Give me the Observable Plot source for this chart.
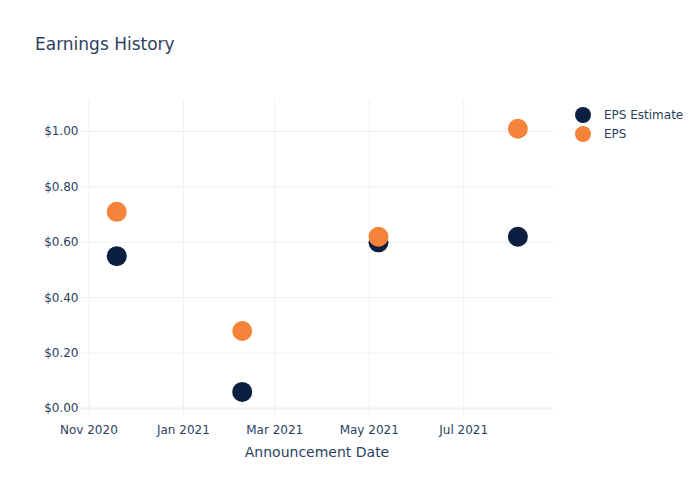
<!DOCTYPE html>
<html>
<head>
<meta charset="utf-8">
<script src="https://cdn.jsdelivr.net/npm/d3@7"></script>
<script src="https://cdn.jsdelivr.net/npm/@observablehq/plot@0.6"></script>
<style>
  body { margin: 0; background: #fff; font-family: "DejaVu Sans", sans-serif; }
  #wrap { position: relative; width: 700px; height: 500px; }
  #title { position: absolute; left: 35px; top: 34px; font-size: 17px; color: #2a3f5f; white-space: nowrap; }
  #legend { position: absolute; left: 575px; top: 105px; font-size: 12px; color: #2a3f5f; }
  .item { display: flex; align-items: center; height: 19px; }
  .sw { width: 16px; height: 16px; border-radius: 50%; margin-right: 13px; }
</style>
</head>
<body>
<div id="wrap">
  <div id="chart"></div>
  <div id="title">Earnings History</div>
  <div id="legend"></div>
</div>
<script>
const titleText = "Earnings History";
const xLabel = "Announcement Date";
const seriesNames = ["EPS Estimate", "EPS"];
const seriesColors = ["#0c1f40", "#f5833a"];
const dates = ["2020-11-19", "2021-02-08", "2021-05-07", "2021-08-05"];
const epsEstimate = [0.55, 0.06, 0.60, 0.62];
const eps = [0.71, 0.28, 0.62, 1.01];
const xTicks = ["2020-11-01", "2021-01-01", "2021-03-01", "2021-05-01", "2021-07-01"];
const yTicks = [0, 0.2, 0.4, 0.6, 0.8, 1.0];
const xRange = ["2020-10-26T14:00:00Z", "2021-08-28T00:00:00Z"];
const yRange = [-0.036, 1.112];

const rows = [];
dates.forEach((d, i) => rows.push({date: new Date(d), value: epsEstimate[i], series: seriesNames[0]}));
dates.forEach((d, i) => rows.push({date: new Date(d), value: eps[i], series: seriesNames[1]}));
const xTickDates = xTicks.map(d => new Date(d));
const grid = "#ebf0f8";

const chart = Plot.plot({
  width: 700,
  height: 500,
  marginLeft: 80,
  marginRight: 147,
  marginTop: 100,
  marginBottom: 82,
  style: {fontFamily: "DejaVu Sans, sans-serif", fontSize: "12px", color: "#2a3f5f", background: "#fff"},
  x: {type: "utc", domain: xRange.map(d => new Date(d)), ticks: xTickDates, tickFormat: d3.utcFormat("%b %Y"), tickSize: 0, tickPadding: 7, label: null},
  y: {domain: yRange, ticks: yTicks, tickFormat: d3.format("$.2f"), tickSize: 0, tickPadding: 2, label: null},
  color: {domain: seriesNames, range: seriesColors},
  marks: [
    Plot.gridX(xTickDates, {stroke: grid, strokeOpacity: 1}),
    Plot.gridY(yTicks, {stroke: grid, strokeOpacity: 1}),
    Plot.ruleY([0], {stroke: grid, strokeWidth: 2}),
    Plot.dot(rows, {x: "date", y: "value", fill: "series", r: 10}),
    Plot.text([xLabel], {frameAnchor: "bottom", dy: 38, fontSize: 14, fill: "#2a3f5f"})
  ]
});
document.getElementById("chart").appendChild(chart);
document.getElementById("title").textContent = titleText;
const leg = document.getElementById("legend");
seriesNames.forEach((s, i) => {
  const it = document.createElement("div");
  it.className = "item";
  const sw = document.createElement("div");
  sw.className = "sw";
  sw.style.background = seriesColors[i];
  const t = document.createElement("span");
  t.textContent = s;
  it.appendChild(sw); it.appendChild(t);
  leg.appendChild(it);
});
</script>
</body>
</html>
